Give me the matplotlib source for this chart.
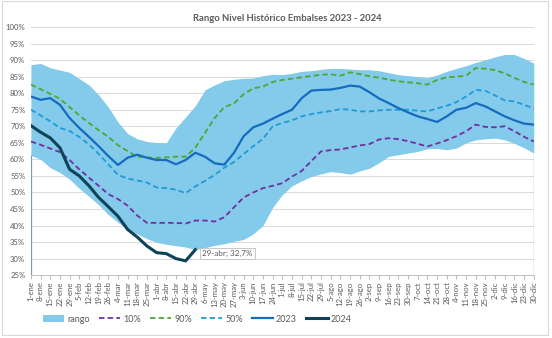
import numpy as np
import pandas as pd
import matplotlib
matplotlib.use("Agg")
import matplotlib.pyplot as plt
from matplotlib.patches import Rectangle

plt.rcParams['font.family'] = ['Lato', 'DejaVu Sans']

# weekly values, 1-ene .. 30-dic (53 weeks)
rango_max = [88.6, 89.0, 87.7, 87.0, 86.3, 84.4, 82.5, 79.5, 75.8, 71.3, 67.8, 66.2, 65.4, 65.1,
             65.0, 69.5, 72.8, 76.2, 81.0, 82.5, 83.8, 84.2, 84.5, 84.6, 85.3, 85.7, 85.6, 86.0,
             86.6, 86.8, 87.2, 87.5, 87.5, 87.3, 87.1, 87.1, 86.8, 86.2, 85.6, 85.3, 85.0, 84.7,
             85.5, 86.6, 87.5, 88.3, 89.3, 90.1, 91.0, 91.7, 91.7, 90.5, 89.1]
rango_min = [61.2, 60.0, 57.5, 56.0, 54.0, 51.2, 48.8, 46.3, 43.3, 41.0, 38.8, 37.4, 36.0, 34.9,
             34.3, 33.9, 33.5, 32.7, 33.3, 34.0, 34.5, 35.2, 35.8, 37.5, 40.0, 45.5, 49.3, 52.0,
             53.5, 54.8, 55.6, 56.3, 56.0, 55.5, 56.5, 57.3, 59.0, 60.9, 61.4, 61.9, 62.4, 63.2,
             63.3, 62.9, 63.4, 65.0, 65.9, 66.2, 66.4, 65.9, 64.8, 63.5, 61.9]
p10 = [65.4, 64.4, 63.3, 62.2, 59.8, 57.0, 54.5, 52.0, 49.5, 48.0, 46.0, 43.0, 40.8, 40.8,
       40.8, 40.8, 40.6, 41.5, 41.5, 41.2, 42.5, 45.5, 48.5, 50.0, 51.3, 52.0, 52.8, 54.8,
       56.5, 59.5, 62.4, 62.8, 63.0, 63.6, 64.2, 64.6, 66.0, 66.4, 66.1, 65.5, 64.7, 63.9,
       64.8, 65.8, 67.0, 68.5, 70.5, 69.8, 69.7, 70.0, 68.5, 66.8, 65.4]
p90 = [82.6, 81.2, 79.8, 78.3, 75.8, 73.3, 71.0, 68.8, 66.8, 64.3, 62.5, 60.8, 60.6, 60.4,
       60.6, 60.8, 60.8, 63.5, 68.0, 72.5, 75.8, 76.9, 79.7, 81.5, 82.0, 83.4, 84.0, 84.4,
       84.8, 85.2, 85.6, 85.7, 85.3, 86.3, 85.8, 85.1, 84.7, 84.1, 83.6, 83.3, 83.0, 82.6,
       84.0, 84.8, 85.0, 85.3, 87.6, 87.4, 87.0, 86.0, 84.6, 83.4, 82.6]
p50 = [75.0, 73.3, 71.5, 69.5, 68.6, 66.8, 64.5, 61.7, 58.5, 55.3, 54.2, 53.6, 53.0, 51.5,
       51.3, 50.8, 49.8, 51.8, 53.5, 55.3, 57.5, 59.2, 61.6, 64.0, 66.2, 70.0, 71.0, 71.8,
       73.0, 73.7, 74.2, 74.6, 75.2, 75.0, 74.5, 74.5, 74.8, 75.0, 75.0, 75.0, 74.7, 74.5,
       75.4, 76.2, 77.3, 79.0, 81.0, 80.7, 79.3, 77.8, 77.5, 76.5, 75.4]
y2023 = [79.0, 78.0, 78.5, 76.5, 72.5, 69.5, 66.8, 64.0, 61.0, 58.3, 60.5, 61.4, 60.5, 59.8,
         59.8, 58.5, 59.8, 62.0, 60.8, 58.8, 58.4, 62.0, 67.0, 69.7, 70.8, 72.3, 73.7, 75.0,
         78.5, 80.8, 81.0, 81.1, 81.6, 82.3, 82.0, 80.3, 78.4, 77.0, 75.5, 74.2, 73.0, 72.2,
         71.3, 73.0, 75.0, 75.6, 77.0, 76.0, 74.5, 73.0, 71.8, 70.8, 70.5]
y2024 = [70.2, 68.2, 66.5, 63.5, 57.0, 55.0, 52.0, 48.5, 45.7, 42.8, 38.8, 36.5, 33.8, 31.8,
         31.5, 30.0, 29.3, 32.7]

meses = ['ene', 'feb', 'mar', 'abr', 'may', 'jun', 'jul', 'ago', 'sep', 'oct', 'nov', 'dic']
fechas = pd.date_range('2024-01-01', periods=len(rango_max), freq='7D')
etiquetas = [f"{d.day}-{meses[d.month - 1]}" for d in fechas]
dias = (fechas - fechas[0]).days.values

gris = '#595959'
fig = plt.figure(figsize=(5.52, 3.38), dpi=100)
fig.patches.append(Rectangle((0.003, 0.008), 0.99, 0.988, transform=fig.transFigure,
                             fill=False, edgecolor='#D9D9D9', lw=0.8))
ax = fig.add_axes([0.056, 0.186, 0.911, 0.734])

ax.fill_between(dias, rango_min, rango_max, color='#83CAEB', lw=0, label='rango')
ax.vlines([dias[0], dias[-1]], 25, [rango_min[0], rango_min[-1]], color='#6A9FC0', lw=0.9)
ax.plot(dias, p10, color='#7030A0', lw=1.3, ls=(0, (3, 1.8)), label='10%')
ax.plot(dias, p90, color='#4EA72E', lw=1.3, ls=(0, (3, 1.8)), label='90%')
ax.plot(dias, p50, color='#1E9BD7', lw=1.3, ls=(0, (3, 1.8)), label='50%')
ax.plot(dias, y2023, color='#156BBE', lw=1.6, label='2023')
d24 = dias[:len(y2024)]
ax.plot(d24, y2024, color='#0C4358', lw=2.2, label='2024')

ax.annotate(f"{fechas[len(y2024) - 1].day}-abr; {y2024[-1]:.1f}%".replace('.', ','),
            xy=(d24[-1], y2024[-1]), xytext=(5, -3), textcoords='offset points',
            ha='left', va='center', fontsize=5.8, color=gris,
            bbox=dict(boxstyle='square,pad=0.25', fc='white', ec='#BFBFBF', lw=0.6))

ax.set_xlim(dias[0], dias[-1])
ax.set_ylim(25, 100)
ax.set_yticks(np.arange(25, 101, 5))
ax.set_yticklabels([f"{v}%" for v in range(25, 101, 5)])
ax.set_xticks(dias)
ax.set_xticklabels(etiquetas, rotation=90)
ax.tick_params(axis='y', length=0, labelsize=5.6, labelcolor=gris, pad=4)
ax.tick_params(axis='x', length=3, color='#BFBFBF', labelsize=5.6, labelcolor=gris, pad=1.5)
ax.grid(axis='y', color='#D9D9D9', lw=0.7)
ax.set_axisbelow(True)
for s in ['top', 'right', 'left']:
    ax.spines[s].set_visible(False)
ax.spines['bottom'].set_color('#BFBFBF')
ax.spines['bottom'].set_linewidth(0.7)

fig.text(0.52, 0.945, 'Rango Nivel Histórico Embalses 2023 - 2024', ha='center', va='center',
         fontsize=6.8, fontweight='bold', color=gris)

fig.legend(loc='center', bbox_to_anchor=(0.357, 0.056), ncol=6, frameon=False, fontsize=6.5,
           labelcolor=gris, handlelength=2.4, handletextpad=0.3, columnspacing=1.0)

fig.savefig('out.png', dpi=100)
